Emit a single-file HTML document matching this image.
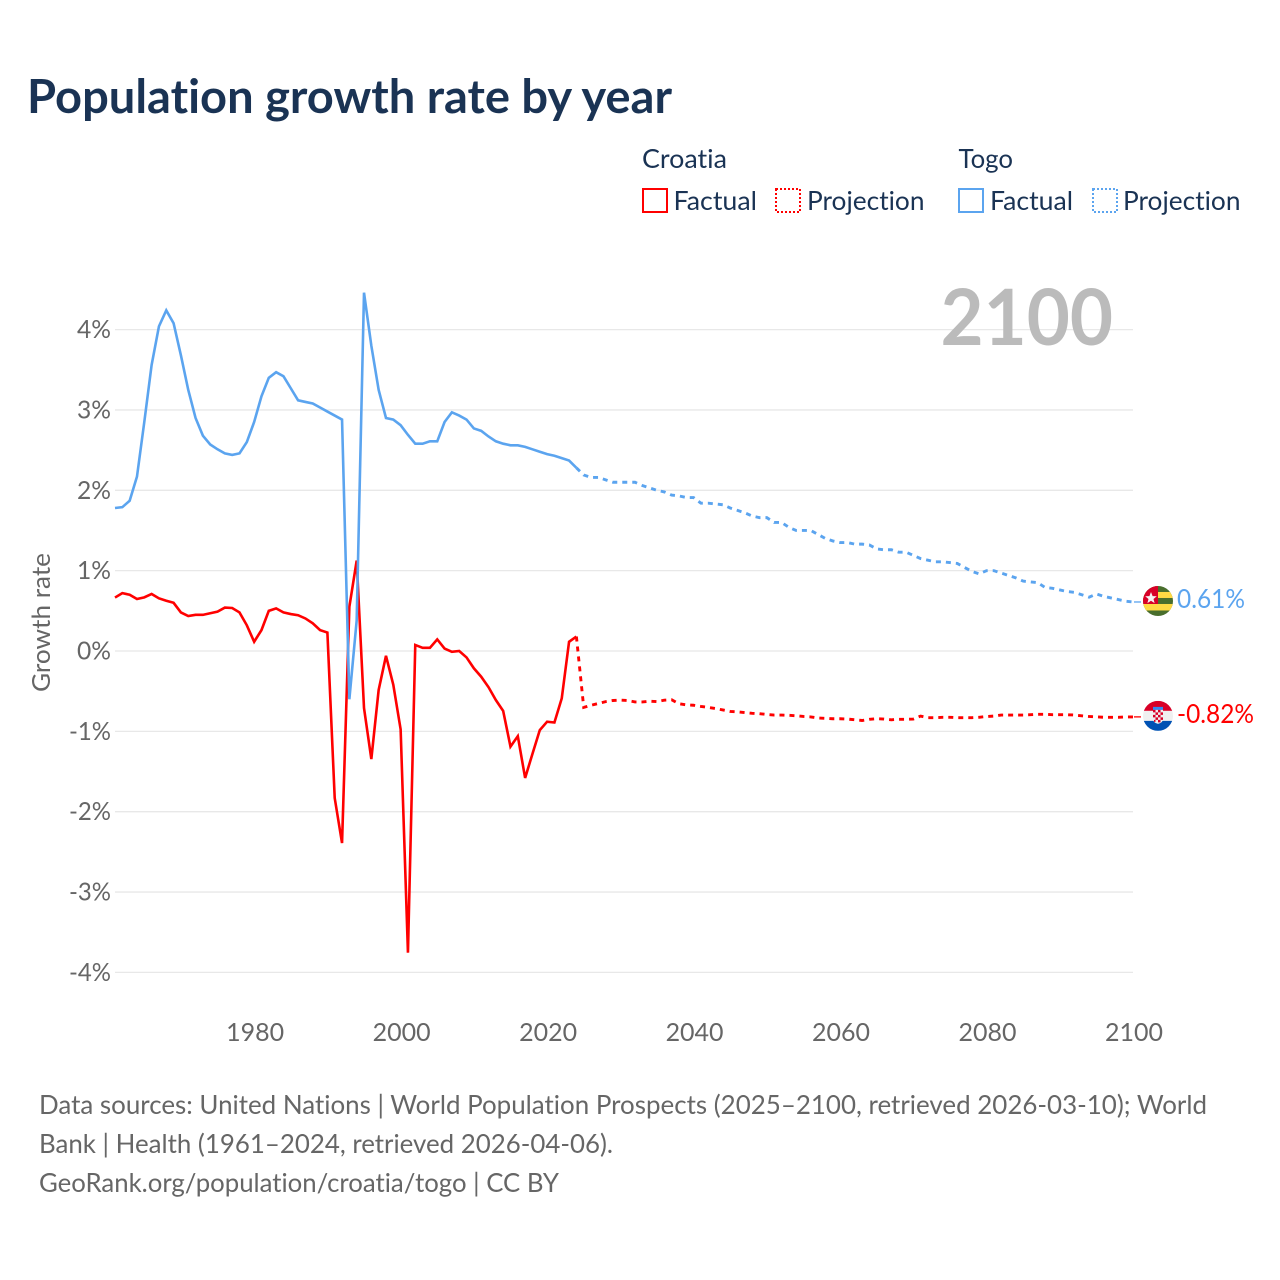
<!DOCTYPE html>
<html lang="en">
<head>
<meta charset="utf-8">
<title>Population growth rate by year</title>
<style>
html,body{margin:0;padding:0;background:#fff;width:1280px;height:1280px;overflow:hidden}
svg{display:block}
text{font-family:"Lato","Carlito","Liberation Sans",sans-serif;font-variant-ligatures:none;font-feature-settings:"liga" 0,"clig" 0}
</style>
</head>
<body>
<svg id="chart" xmlns="http://www.w3.org/2000/svg" width="1280" height="1280" viewBox="0 0 1280 1280">
  <defs>
    <clipPath id="flag-clip"><circle cx="0" cy="0" r="15"/></clipPath>
  </defs>
  <rect x="0" y="0" width="1280" height="1280" fill="#fff"/>
  <text x="27" y="113" font-size="47" font-weight="700" fill="#1a3354" textLength="645" lengthAdjust="spacingAndGlyphs">Population growth rate by year</text>

  <g fill="#1a3354" font-size="26">
    <text x="642" y="168" textLength="85" lengthAdjust="spacingAndGlyphs">Croatia</text>
    <rect x="643" y="189" width="24" height="23" fill="none" stroke="#ff0000" stroke-width="2"/>
    <text x="673.500" y="210" textLength="83.500" lengthAdjust="spacingAndGlyphs">Factual</text>
    <rect x="776" y="189" width="24" height="23" fill="none" stroke="#ff0000" stroke-width="2" stroke-dasharray="2 2"/>
    <text x="807" y="210" textLength="117.500" lengthAdjust="spacingAndGlyphs">Projection</text>
    <text x="958.500" y="168" textLength="54.500" lengthAdjust="spacingAndGlyphs">Togo</text>
    <rect x="959" y="189" width="24" height="23" fill="none" stroke="#5ba4ef" stroke-width="2"/>
    <text x="990" y="210" textLength="83" lengthAdjust="spacingAndGlyphs">Factual</text>
    <rect x="1093" y="189" width="24" height="23" fill="none" stroke="#5ba4ef" stroke-width="2" stroke-dasharray="2 2"/>
    <text x="1123" y="210" textLength="117.500" lengthAdjust="spacingAndGlyphs">Projection</text>
  </g>

  <g id="grid"></g>
  <g id="y-ticks"></g>
  <g id="x-ticks"></g>
  <text transform="translate(50,692) rotate(-90)" font-size="25" fill="#666" textLength="139" lengthAdjust="spacingAndGlyphs">Growth rate</text>
  <text x="940.500" y="345" font-size="78" font-weight="700" fill="#bbbbbb" textLength="172.500" lengthAdjust="spacingAndGlyphs">2100</text>
  <g id="series"></g>

  <g id="flag-togo">
    <g clip-path="url(#flag-clip)">
      <rect x="-15" y="-15" width="30" height="30" fill="#496e2d"/>
      <rect x="-15" y="-9" width="30" height="6" fill="#ffda44"/>
      <rect x="-15" y="3" width="30" height="6.5" fill="#ffda44"/>
      <rect x="-15" y="-15" width="15" height="18" fill="#d80027"/>
      <polygon points="-7,-9 -5.4,-4.9 -1.2,-4.7 -4.5,-2 -3.4,2.1 -7,-0.2 -10.6,2.1 -9.5,-2 -12.8,-4.7 -8.6,-4.9" fill="#f4f4f4"/>
    </g>
  </g>
  <g id="flag-croatia">
    <g clip-path="url(#flag-clip)">
      <rect x="-15" y="-15" width="30" height="10" fill="#d80027"/>
      <rect x="-15" y="-5" width="30" height="10" fill="#f0f0f0"/>
      <rect x="-15" y="5" width="30" height="10" fill="#0052b4"/>
      <rect x="-5" y="-9" width="10" height="3" fill="#338af3"/>
      <path d="M-5 -6H5V3Q5 7 0 8Q-5 7 -5 3Z" fill="#f0f0f0"/>
      <path d="M-5 -6h2.500v2.500h-2.500zM0 -6h2.500v2.500h-2.500zM-2.500 -3.500h2.500v2.500h-2.500zM2.500 -3.500h2.500v2.500h-2.500zM-5 -1h2.500v2.500h-2.500zM0 -1h2.500v2.500h-2.500zM-2.500 1.500h2.500v2.500h-2.500zM2.500 1.500h2.500v2.500h-2.500zM-4 4h1.500v2h-1.500zM0 4h2.500v2.500h-2.500z" fill="#d80027"/>
    </g>
  </g>
  <text id="label-togo" x="1177" font-size="26" fill="#5ba4ef" textLength="68" lengthAdjust="spacingAndGlyphs"></text>
  <text id="label-croatia" x="1177" font-size="26" fill="#ff0000" textLength="77" lengthAdjust="spacingAndGlyphs"></text>

  <g font-size="26" fill="#666">
    <text x="39" y="1114" textLength="1168" lengthAdjust="spacingAndGlyphs">Data sources: United Nations | World Population Prospects (2025–2100, retrieved 2026-03-10); World</text>
    <text x="39" y="1153" textLength="574" lengthAdjust="spacingAndGlyphs">Bank | Health (1961–2024, retrieved 2026-04-06).</text>
    <text x="39" y="1192" textLength="520" lengthAdjust="spacingAndGlyphs">GeoRank.org/population/croatia/togo | CC BY</text>
  </g>
</svg>
<script>
const firstYear = 1961;
const xTickYears = [1980, 2000, 2020, 2040, 2060, 2080, 2100];
const yTickValues = [4, 3, 2, 1, 0, -1, -2, -3, -4];

const togoFactual = [
  1.78,1.79,1.87,2.17,2.85,3.56,4.04,4.24,4.08,3.68,
  3.25,2.90,2.68,2.57,2.51,2.46,2.44,2.46,2.60,2.85,
  3.17,3.40,3.47,3.42,3.27,3.12,3.10,3.08,3.03,2.98,
  2.93,2.88,-0.60,0.38,4.46,3.80,3.25,2.90,2.88,2.81,
  2.69,2.58,2.58,2.61,2.61,2.85,2.97,2.93,2.88,2.77,
  2.74,2.67,2.61,2.58,2.56,2.56,2.54,2.51,2.48,2.45,
  2.43,2.40,2.37,2.28
];
const togoProjection = [
  2.19,2.16,2.16,2.13,2.10,2.10,
  2.10,2.10,2.06,2.03,2.00,1.98,1.94,1.93,1.91,1.91,
  1.84,1.84,1.83,1.82,1.78,1.75,1.72,1.68,1.66,1.66,
  1.60,1.60,1.54,1.50,1.50,1.50,1.45,1.40,1.37,1.35,
  1.35,1.33,1.33,1.32,1.27,1.26,1.26,1.23,1.23,1.19,
  1.15,1.13,1.11,1.11,1.10,1.09,1.04,0.99,0.96,1.00,
  1.00,0.97,0.94,0.91,0.87,0.86,0.85,0.79,0.78,0.76,
  0.74,0.73,0.70,0.67,0.71,0.68,0.66,0.64,0.62,0.61
];
const croatiaFactual = [
  0.665,0.72,0.70,0.647,0.668,0.71,0.655,0.625,0.60,0.48,
  0.435,0.45,0.45,0.47,0.49,0.54,0.535,0.48,0.32,0.115,
  0.26,0.50,0.53,0.48,0.46,0.445,0.405,0.345,0.26,0.23,
  -1.83,-2.39,0.55,1.125,-0.71,-1.345,-0.485,-0.06,-0.42,-0.975,
  -3.755,0.075,0.04,0.04,0.145,0.03,-0.01,0,-0.08,-0.215,
  -0.32,-0.45,-0.61,-0.745,-1.19,-1.06,-1.58,-1.28,-0.985,-0.88,
  -0.89,-0.59,0.115,0.18
];
const croatiaProjection = [
  -0.702,-0.675,-0.653,-0.63,-0.616,-0.612,
  -0.616,-0.634,-0.634,-0.625,-0.63,-0.612,-0.607,-0.657,-0.67,-0.675,
  -0.69,-0.702,-0.716,-0.734,-0.752,-0.757,-0.766,-0.775,-0.78,-0.79,
  -0.797,-0.797,-0.80,-0.806,-0.815,-0.82,-0.834,-0.838,-0.843,-0.843,
  -0.847,-0.856,-0.865,-0.85,-0.843,-0.847,-0.856,-0.85,-0.85,-0.847,
  -0.81,-0.83,-0.83,-0.825,-0.825,-0.83,-0.83,-0.83,-0.825,-0.815,
  -0.81,-0.797,-0.797,-0.797,-0.797,-0.793,-0.788,-0.788,-0.793,-0.793,
  -0.793,-0.797,-0.806,-0.815,-0.82,-0.825,-0.825,-0.825,-0.82,-0.82
];

const SVGNS = 'http://www.w3.org/2000/svg';
const xAxis = function (year) { return 115 + (year - 1961) * (1133 - 115) / (2100 - 1961); };
const yAxis = function (value) { return 651 - value * 80.35; };

function lineFor(startYear, values) {
  return values.map(function (v, i) {
    return xAxis(startYear + i).toFixed(2) + ',' + yAxis(v).toFixed(2);
  }).join(' ');
}

const gridGroup = document.getElementById('grid');
const yTickGroup = document.getElementById('y-ticks');
const xTickGroup = document.getElementById('x-ticks');
const seriesGroup = document.getElementById('series');

yTickValues.forEach(function (v) {
  const g = document.createElementNS(SVGNS, 'line');
  
  
  g.setAttribute('x1', 115);
  g.setAttribute('x2', 1133);
  g.setAttribute('y1', yAxis(v));
  g.setAttribute('y2', yAxis(v));
  g.setAttribute('stroke', '#e8e8e8');
  g.setAttribute('stroke-width', 1.3);
  gridGroup.appendChild(g);

  const t = document.createElementNS(SVGNS, 'text');
  
  
  const label = v + '%';
  t.setAttribute('x', v < 0 ? 69 : 77);
  t.setAttribute('y', yAxis(v) + 8.5);
  t.setAttribute('font-size', 25);
  t.setAttribute('fill', '#666');
  t.setAttribute('textLength', v < 0 ? 42 : 34);
  t.setAttribute('lengthAdjust', 'spacingAndGlyphs');
  t.textContent = label;
  yTickGroup.appendChild(t);
});

xTickYears.forEach(function (year) {
  const t = document.createElementNS(SVGNS, 'text');
  
  
  t.setAttribute('x', xAxis(year) - 28);
  t.setAttribute('y', 1041);
  t.setAttribute('font-size', 25);
  t.setAttribute('fill', '#666');
  t.setAttribute('textLength', 58);
  t.setAttribute('lengthAdjust', 'spacingAndGlyphs');
  t.textContent = String(year);
  xTickGroup.appendChild(t);
});

function drawSeries(name, color, factual, projection) {
  const lastYear = firstYear + factual.length - 1;
  const solid = document.createElementNS(SVGNS, 'polyline');
  
  
  solid.setAttribute('points', lineFor(firstYear, factual));
  solid.setAttribute('fill', 'none');
  solid.setAttribute('stroke', color);
  solid.setAttribute('stroke-width', 2.6);
  solid.setAttribute('stroke-linejoin', 'miter');
  seriesGroup.appendChild(solid);

  const dashed = document.createElementNS(SVGNS, 'polyline');
  
  
  dashed.setAttribute('points', lineFor(lastYear, [factual[factual.length - 1]].concat(projection)));
  dashed.setAttribute('fill', 'none');
  dashed.setAttribute('stroke', color);
  dashed.setAttribute('stroke-width', 2.9);
  dashed.setAttribute('stroke-dasharray', '5 5');
  seriesGroup.appendChild(dashed);

  const endValue = projection[projection.length - 1];
  const leader = document.createElementNS(SVGNS, 'line');
  
  
  leader.setAttribute('x1', 1134);
  leader.setAttribute('x2', 1141);
  leader.setAttribute('y1', yAxis(endValue));
  leader.setAttribute('y2', yAxis(endValue));
  leader.setAttribute('stroke', color);
  leader.setAttribute('stroke-width', 1.3);
  seriesGroup.appendChild(leader);

  document.getElementById('flag-' + name).setAttribute('transform', 'translate(1158,' + (yAxis(endValue) - 1) + ')');
  const label = document.getElementById('label-' + name);
  label.setAttribute('y', yAxis(endValue) + 6);
  label.textContent = endValue.toFixed(2) + '%';
}

drawSeries('croatia', '#ff0000', croatiaFactual, croatiaProjection);
drawSeries('togo', '#5ba4ef', togoFactual, togoProjection);
</script>
</body>
</html>
